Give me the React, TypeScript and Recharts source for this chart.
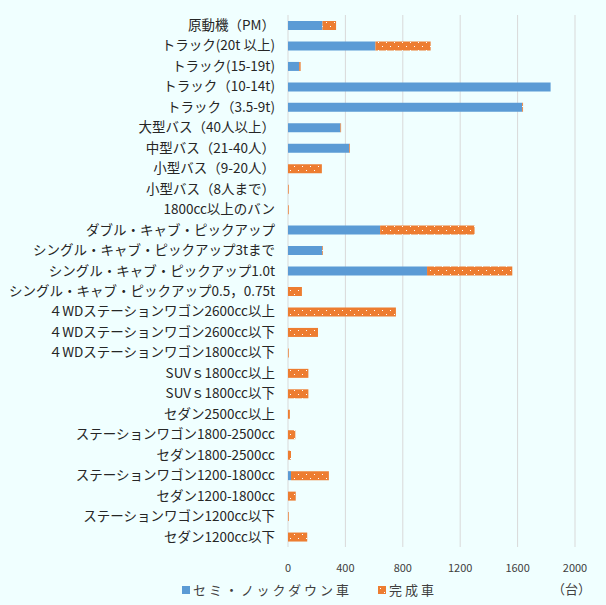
import React from "react"
import { BarChart, Bar, XAxis, YAxis, CartesianGrid, Legend } from "recharts"

const categories = [
  "原動機（PM）",
  "トラック(20t 以上)",
  "トラック(15-19t)",
  "トラック（10-14t)",
  "トラック（3.5-9t)",
  "大型バス（40人以上）",
  "中型バス（21-40人）",
  "小型バス（9-20人）",
  "小型バス（8人まで）",
  "1800cc以上のバン",
  "ダブル・キャブ・ピックアップ",
  "シングル・キャブ・ピックアップ3tまで",
  "シングル・キャブ・ピックアップ1.0t",
  "シングル・キャブ・ピックアップ0.5，0.75t",
  "４WDステーションワゴン2600cc以上",
  "４WDステーションワゴン2600cc以下",
  "４WDステーションワゴン1800cc以下",
  "SUVｓ1800cc以上",
  "SUVｓ1800cc以下",
  "セダン2500cc以上",
  "ステーションワゴン1800-2500cc",
  "セダン1800-2500cc",
  "ステーションワゴン1200-1800cc",
  "セダン1200-1800cc",
  "ステーションワゴン1200cc以下",
  "セダン1200cc以下",
]

const semiKnockdown = [
  240, 609, 78, 1830, 1632, 365, 427, 0, 0, 0, 642, 239, 969, 0, 0, 0, 0, 0,
  0, 0, 0, 0, 21, 0, 0, 0,
]

const completed = [
  95, 385, 10, 0, 6, 5, 5, 236, 5, 5, 658, 5, 594, 97, 752, 209, 5, 142, 142,
  13, 51, 21, 264, 54, 5, 134,
]

const xTicks = [0, 400, 800, 1200, 1600, 2000]

const data = categories.map((name, i) => ({
  name,
  semi: semiKnockdown[i],
  done: completed[i],
}))

const BLUE = "#5B9BD5"
const ORANGE = "#ED7D31"
const FONT = "'Noto Sans CJK JP', 'Noto Sans', sans-serif"

// legend drawn by hand so the gap between the two items can match
function renderLegend(props: any) {
  const items = props.payload || []
  return (
    <div style={{ display: "flex", justifyContent: "center", paddingLeft: 44 }}>
      {items.map((item: any, i: number) => (
        <div key={i} style={{ display: "flex", alignItems: "center", marginRight: i === 0 ? 26 : 0 }}>
          <svg width="8" height="8" style={{ marginRight: 3 }}>
            <rect width="8" height="8" fill={item.color} />
          </svg>
          <span style={{ color: "#404040", fontSize: 13, letterSpacing: 3, lineHeight: "20px" }}>{item.value}</span>
        </div>
      ))}
    </div>
  )
}

export default function App() {
  return (
    <div style={{ position: "relative", width: 606, height: 605, background: "#F0FFFF", fontFamily: FONT }}>
      <style>{"body{margin:0;background:#F0FFFF}"}</style>
      <svg width="0" height="0" style={{ position: "absolute" }}>
        <defs>
          <pattern id="dots" width="8" height="8" patternUnits="userSpaceOnUse">
            <rect width="8" height="8" fill={ORANGE} />
            <rect x="2" y="2" width="1" height="1" fill="#fff" />
            <rect x="6" y="6" width="1" height="1" fill="#fff" />
          </pattern>
        </defs>
      </svg>
      <BarChart
        width={606}
        height={605}
        data={data}
        layout="vertical"
        margin={{ top: 15, right: 31, left: 0, bottom: 5 }}
        barSize={9}
      >
        <CartesianGrid horizontal={false} stroke="#d9d9d9" />
        <XAxis
          type="number"
          domain={[0, 2000]}
          ticks={xTicks}
          tickLine={false}
          axisLine={false}
          tickMargin={11}
          height={33}
          tick={{ fill: "#404040", fontSize: 11 }}
        />
        <YAxis
          type="category"
          dataKey="name"
          width={288}
          interval={0}
          tickLine={false}
          axisLine={false}
          tickMargin={7}
          tick={{ fill: "#262626", fontSize: 13.5 }}
        />
        <Legend verticalAlign="bottom" content={renderLegend} />
        <Bar dataKey="semi" name="セミ・ノックダウン車" stackId="a" fill={BLUE} isAnimationActive={false} />
        <Bar dataKey="done" name="完成車" stackId="a" fill="url(#dots)" isAnimationActive={false} />
      </BarChart>
      <div style={{ position: "absolute", left: 552, top: 579, fontSize: 13, color: "#404040" }}>（台）</div>
    </div>
  )
}
